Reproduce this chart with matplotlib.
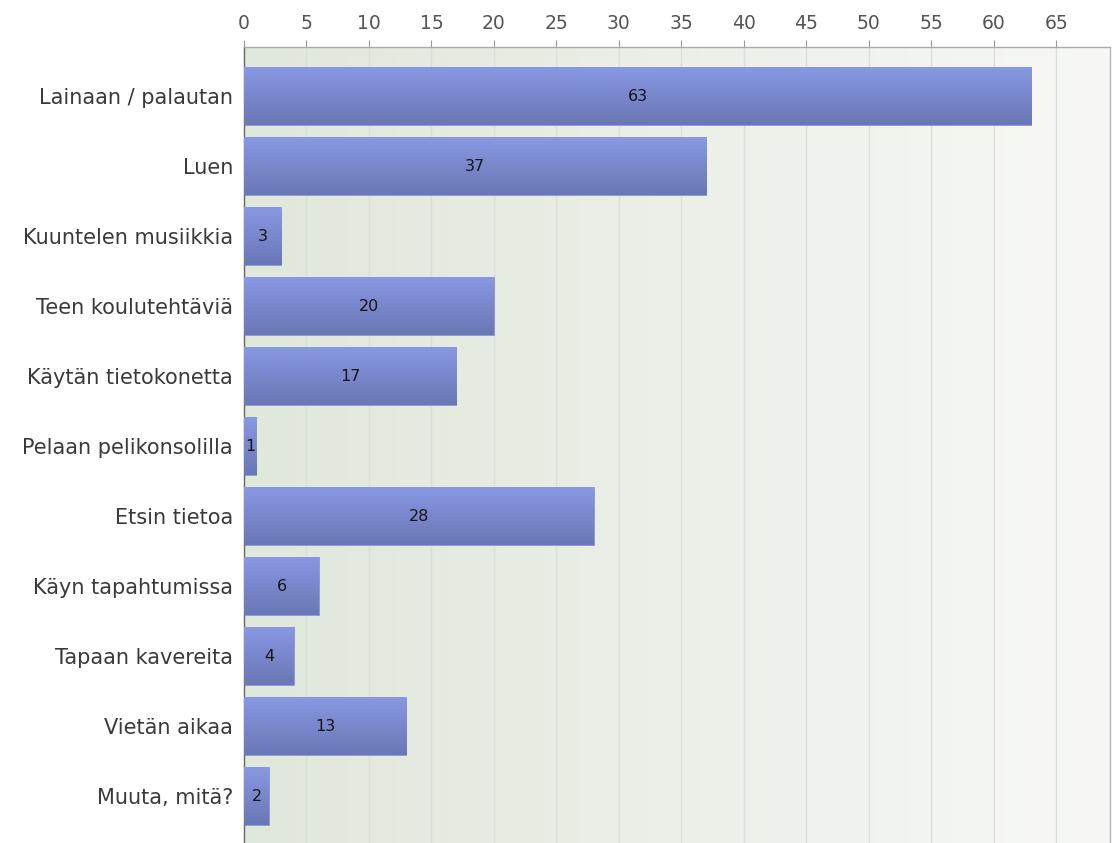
import matplotlib.pyplot as plt
import numpy as np
from matplotlib.colors import LinearSegmentedColormap

categories = ["Lainaan / palautan", "Luen", "Kuuntelen musiikkia", "Teen koulutehtäviä",
              "Käytän tietokonetta", "Pelaan pelikonsolilla", "Etsin tietoa",
              "Käyn tapahtumissa", "Tapaan kavereita", "Vietän aikaa", "Muuta, mitä?"]
values = [63, 37, 3, 20, 17, 1, 28, 6, 4, 13, 2]
xticks = list(range(0, 70, 5))

plt.rcParams['font.family'] = ['DejaVu Sans']

fig = plt.figure(figsize=(11.12, 8.43), dpi=100)
ax = fig.add_axes([244 / 1112, 0.0, (1110 - 244) / 1112, 1 - 47 / 843])

xmax = 69.3
ymin, ymax = -0.7, 10.67
ax.set_xlim(0, xmax)
ax.set_ylim(ymax, ymin)

# background gradient, greenish on the left fading to near white
bg = LinearSegmentedColormap.from_list("bg", ["#e0e7db", "#f7f8f5"])
ax.imshow(np.linspace(0, 1, 256).reshape(1, -1), cmap=bg, aspect="auto",
          extent=[0, xmax, ymax, ymin], zorder=0, interpolation="bilinear")

for t in xticks[1:]:
    ax.axvline(t, color="#dadfd7", lw=1, zorder=1)

ypos = np.arange(len(categories))
bars = ax.barh(ypos, values, height=0.82, color="#7a87cc", zorder=2)

# vertical gradient inside each bar
barcm = LinearSegmentedColormap.from_list("bar", ["#8898e2", "#6a77b6"])
for b in bars:
    x0, y0 = b.get_x(), b.get_y()
    w, h = b.get_width(), b.get_height()
    im = ax.imshow(np.linspace(0, 1, 64).reshape(-1, 1), cmap=barcm, aspect="auto",
                   extent=[x0, x0 + w, y0 + h, y0], zorder=3, interpolation="bilinear")
    im.set_clip_path(b)
    b.set_edgecolor("#8a96d6")
    b.set_linewidth(0.6)

for y, v in zip(ypos, values):
    ax.text(v / 2, y, str(v), ha="center", va="center", fontsize=11.5, color="#151515", zorder=4)

ax.set_xlim(0, xmax)
ax.set_ylim(ymax, ymin)

ax.xaxis.tick_top()
ax.set_xticks(xticks)
ax.set_xticklabels([str(t) for t in xticks], fontsize=13.5, color="#555555")
ax.tick_params(axis="x", length=5, color="#999999", pad=5)
ax.set_yticks(ypos)
ax.set_yticklabels(categories, fontsize=15, color="#3a3a3a")
ax.tick_params(axis="y", length=0, pad=8)

ax.spines["bottom"].set_visible(False)
ax.spines["top"].set_color("#aaaaaa")
ax.spines["right"].set_color("#b5b5b5")
ax.spines["left"].set_color("#666666")
for s in ax.spines.values():
    s.set_linewidth(1)

fig.savefig("out.png", dpi=100)
